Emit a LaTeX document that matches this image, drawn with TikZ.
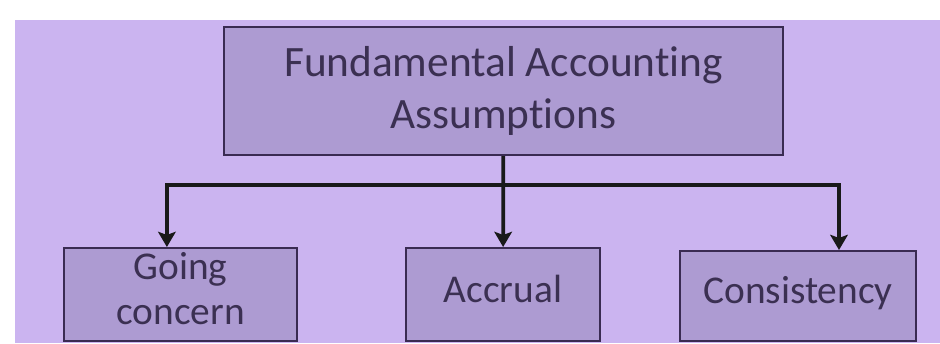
\documentclass[tikz,border=0pt]{standalone}
\usepackage{fontspec}
\setmainfont[Ligatures=CommonOff]{Carlito}
\usepackage{tikz}
\usetikzlibrary{positioning, arrows.meta, calc}

\definecolor{pagebg}{HTML}{CBB4F0}
\definecolor{boxfill}{HTML}{AD9BD2}
\definecolor{boxline}{HTML}{3A2B52}
\definecolor{boxtext}{HTML}{3B3052}

\begin{document}
\begin{tikzpicture}[x=0.025cm, y=-0.025cm, every node/.style={align=center}]
\tikzset{
  block/.style={
    rectangle, draw=boxline, line width=1.4pt, fill=boxfill, text=boxtext,
    inner sep=0pt
  },
  topblock/.style={block, minimum width=13.975cm, minimum height=3.2cm,
    font=\fontsize{30.8}{37.5}\selectfont},
  leaf/.style={block, minimum height=2.325cm, text depth=0.3cm,
    font=\fontsize{28}{32}\selectfont},
  arrow/.style={line width=2.7pt, draw=black!90, -{Stealth[length=0.38cm, width=0.44cm, inset=0.08cm]}}
}

% page and background
\useasboundingbox (0,0) rectangle (940,343);
\fill[white] (0,0) rectangle (940,343);
\fill[pagebg] (15,20) rectangle (940,343);

\node (fund) [topblock] at (503.5,91) {Fundamental Accounting\\Assumptions};

\node (going) [leaf, minimum width=5.825cm] at (180.5,294.5) {Going\\concern};
\node (accrual) [leaf, minimum width=4.85cm] at (503,294.5) {Accrual};
\node (consistency) [leaf, minimum width=5.9cm, minimum height=2.25cm] at (798,296) {Consistency};

\coordinate (split) at (503.5,185);

\draw [arrow] (fund) -- (accrual);
\draw [arrow] (split) -| ([xshift=-0.34cm]going.north);
\draw [arrow] (split) -| ([xshift=1.025cm]consistency.north);
\end{tikzpicture}
\end{document}
